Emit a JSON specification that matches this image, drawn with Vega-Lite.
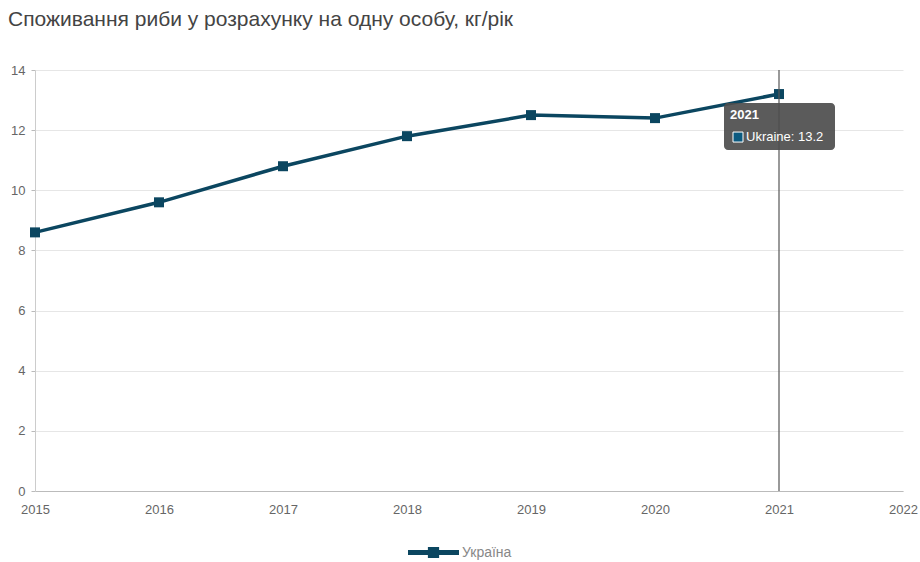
{
  "$schema": "https://vega.github.io/schema/vega-lite/v6.json",
  "width": 868,
  "height": 421,
  "autosize": {"type": "none"},
  "padding": {"left": 35, "top": 70, "right": 17, "bottom": 71},
  "background": "#ffffff",
  "title": {
    "text": "Споживання риби у розрахунку на одну особу, кг/рік",
    "anchor": "start",
    "frame": "group",
    "dx": -27,
    "offset": 34,
    "font": "Liberation Sans",
    "fontSize": 21,
    "fontWeight": "normal",
    "color": "#444444"
  },
  "config": {
    "view": {"stroke": null},
    "axis": {"labelFont": "Liberation Sans", "labelFontSize": 13, "labelColor": "#666666", "titleFont": "Liberation Sans"}
  },
  "datasets": {
    "series": [
      {"year": 2015, "value": 8.6, "country": "Україна"},
      {"year": 2016, "value": 9.6, "country": "Україна"},
      {"year": 2017, "value": 10.8, "country": "Україна"},
      {"year": 2018, "value": 11.8, "country": "Україна"},
      {"year": 2019, "value": 12.5, "country": "Україна"},
      {"year": 2020, "value": 12.4, "country": "Україна"},
      {"year": 2021, "value": 13.2, "country": "Україна"}
    ],
    "tip": [
      {"year": 2021, "value": 13.2, "head": "2021", "label": "Ukraine: 13.2"}
    ]
  },
  "layer": [
    {
      "data": {"name": "series"},
      "mark": {"type": "line", "strokeWidth": 3.5, "point": {"shape": "square", "size": 100, "filled": true, "color": "#0b4660"}},
      "encoding": {
        "x": {
          "field": "year", "type": "quantitative",
          "scale": {"domain": [2015, 2022], "nice": false, "zero": false},
          "axis": {"format": "d", "values": [2015, 2016, 2017, 2018, 2019, 2020, 2021, 2022], "title": null, "grid": false, "domainColor": "#bbbbbb", "ticks": false, "labelPadding": 12, "labelFlush": false}
        },
        "y": {
          "field": "value", "type": "quantitative",
          "scale": {"domain": [0, 14], "nice": false},
          "axis": {"values": [0, 2, 4, 6, 8, 10, 12, 14], "title": null, "grid": true, "gridColor": "#e6e6e6", "domainColor": "#cccccc", "tickColor": "#bbbbbb", "tickSize": 4, "labelPadding": 6}
        },
        "color": {
          "field": "country", "type": "nominal",
          "scale": {"range": ["#0b4660"]},
          "legend": {
            "title": null,
            "orient": "none",
            "legendX": 373,
            "legendY": 457,
            "symbolType": "M-1,-0.1H1V0.1H-1Z M-0.22,-0.22H0.22V0.22H-0.22Z",
            "symbolSize": 2600,
            "symbolFillColor": "#0b4660",
            "symbolStrokeWidth": 0,
            "labelFont": "Liberation Sans",
            "labelFontSize": 14,
            "labelColor": "#888888",
            "labelOffset": 3
          }
        }
      }
    },
    {
      "data": {"name": "tip"},
      "mark": {"type": "rule", "color": "#555555", "strokeWidth": 1.2},
      "encoding": {
        "x": {"field": "year", "type": "quantitative"},
        "y": {"datum": 0},
        "y2": {"datum": 14}
      }
    },
    {
      "data": {"name": "tip"},
      "mark": {"type": "rect", "fill": "#4d4d4d", "opacity": 0.92, "cornerRadius": 4, "xOffset": -55, "x2Offset": 56, "yOffset": 9, "y2Offset": 56},
      "encoding": {
        "x": {"field": "year", "type": "quantitative"},
        "x2": {"field": "year"},
        "y": {"field": "value", "type": "quantitative"},
        "y2": {"field": "value"}
      }
    },
    {
      "data": {"name": "tip"},
      "mark": {"type": "square", "filled": true, "color": "#0b5a80", "stroke": "#ffffff", "strokeWidth": 1, "size": 100, "xOffset": -41, "yOffset": 43, "opacity": 1},
      "encoding": {
        "x": {"field": "year", "type": "quantitative"},
        "y": {"field": "value", "type": "quantitative"}
      }
    },
    {
      "data": {"name": "tip"},
      "mark": {"type": "text", "color": "#ffffff", "font": "Liberation Sans", "fontSize": 13, "fontWeight": "bold", "align": "left", "baseline": "middle", "dx": -49, "dy": 21},
      "encoding": {
        "x": {"field": "year", "type": "quantitative"},
        "y": {"field": "value", "type": "quantitative"},
        "text": {"field": "head"}
      }
    },
    {
      "data": {"name": "tip"},
      "mark": {"type": "text", "color": "#ffffff", "font": "Liberation Sans", "fontSize": 13, "align": "left", "baseline": "middle", "dx": -33, "dy": 43},
      "encoding": {
        "x": {"field": "year", "type": "quantitative"},
        "y": {"field": "value", "type": "quantitative"},
        "text": {"field": "label"}
      }
    }
  ]
}
